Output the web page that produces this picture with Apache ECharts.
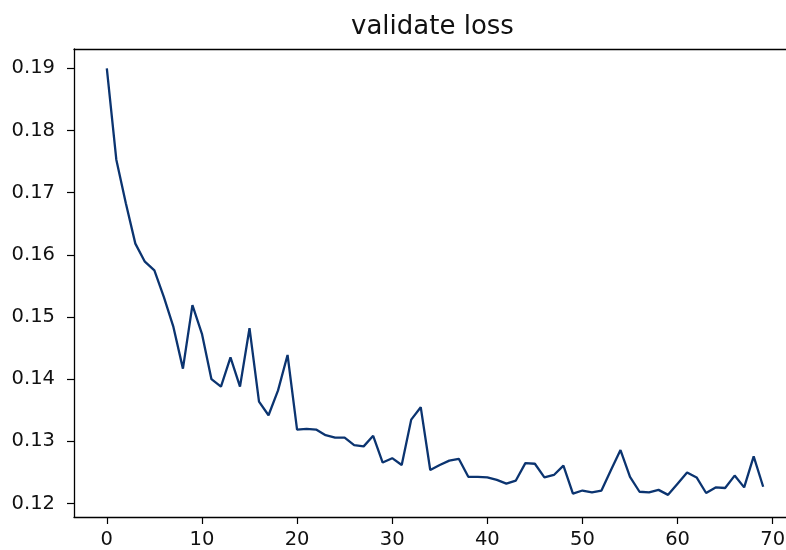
<!DOCTYPE html>
<html>
<head>
<meta charset="utf-8">
<script src="https://cdn.jsdelivr.net/npm/echarts@6/dist/echarts.min.js"></script>
<style>
  html, body { margin: 0; padding: 0; background: #fff; }
  #chart { width: 786px; height: 550px; }
</style>
</head>
<body>
<div id="chart"></div>
<script>
// Validation loss per epoch
const epochs = Array.from({ length: 70 }, (_, i) => i);
const lossValues = [
  0.1900, 0.1753, 0.1683, 0.1618, 0.1589, 0.1575, 0.1532, 0.1484, 0.1417, 0.1519,
  0.1473, 0.1400, 0.1388, 0.1435, 0.1388, 0.1482, 0.1364, 0.1342, 0.1382, 0.1439,
  0.1319, 0.1320, 0.1319, 0.1310, 0.1306, 0.1306, 0.1294, 0.1292, 0.1309, 0.1266,
  0.1273, 0.1262, 0.1335, 0.1355, 0.1254, 0.1262, 0.1269, 0.1272, 0.1243, 0.1243,
  0.1242, 0.1238, 0.1232, 0.1237, 0.1265, 0.1264, 0.1242, 0.1246, 0.1261, 0.1216,
  0.1221, 0.1218, 0.1221, 0.1254, 0.1286, 0.1243, 0.1219, 0.1218, 0.1222, 0.1214,
  0.1232, 0.1250, 0.1242, 0.1217, 0.1226, 0.1225, 0.1245, 0.1226, 0.1276, 0.1227
];
const xTicks = [0, 10, 20, 30, 40, 50, 60, 70];
const yTicks = [0.12, 0.13, 0.14, 0.15, 0.16, 0.17, 0.18, 0.19];

const font = 'DejaVu Sans';
const spine = { show: true, onZero: false, lineStyle: { color: '#000', width: 1.3 } };
const chart = echarts.init(document.getElementById('chart'), null, { renderer: 'canvas' });

chart.setOption({
  animation: false,
  backgroundColor: '#ffffff',
  title: {
    text: 'validate loss',
    left: 346,
    top: 9,
    textStyle: { fontFamily: font, fontSize: 26, fontWeight: 'normal', color: '#111' }
  },
  grid: {
    left: 74, right: -10, top: 49, bottom: 33,
    outerBoundsMode: 'none',
    containLabel: false
  },
  xAxis: [{
    type: 'value',
    position: 'bottom',
    min: -3.45, max: 72.45,
    axisLine: spine,
    splitLine: { show: false },
    axisTick: {
      show: true, inside: false, length: 7, customValues: xTicks,
      lineStyle: { color: '#000', width: 1.2 }
    },
    axisLabel: {
      show: true, customValues: xTicks, margin: 13,
      fontFamily: font, fontSize: 19.5, color: '#111',
      formatter: v => String(v)
    }
  }, {
    // top spine only
    type: 'value',
    position: 'top',
    min: -3.45, max: 72.45,
    axisLine: spine,
    axisTick: { show: false },
    axisLabel: { show: false },
    splitLine: { show: false }
  }],
  yAxis: {
    type: 'value',
    position: 'left',
    min: 0.11784, max: 0.1931,
    axisLine: spine,
    splitLine: { show: false },
    axisTick: {
      show: true, inside: false, length: 7, customValues: yTicks,
      lineStyle: { color: '#000', width: 1.2 }
    },
    axisLabel: {
      show: true, customValues: yTicks, margin: 19,
      fontFamily: font, fontSize: 19.5, color: '#111',
      formatter: v => v.toFixed(2)
    }
  },
  series: [{
    type: 'line',
    xAxisIndex: 0,
    data: epochs.map((e, i) => [e, lossValues[i]]),
    showSymbol: false,
    symbol: 'none',
    lineStyle: { color: '#0b3470', width: 2.3 },
    silent: true
  }]
});
</script>
</body>
</html>
